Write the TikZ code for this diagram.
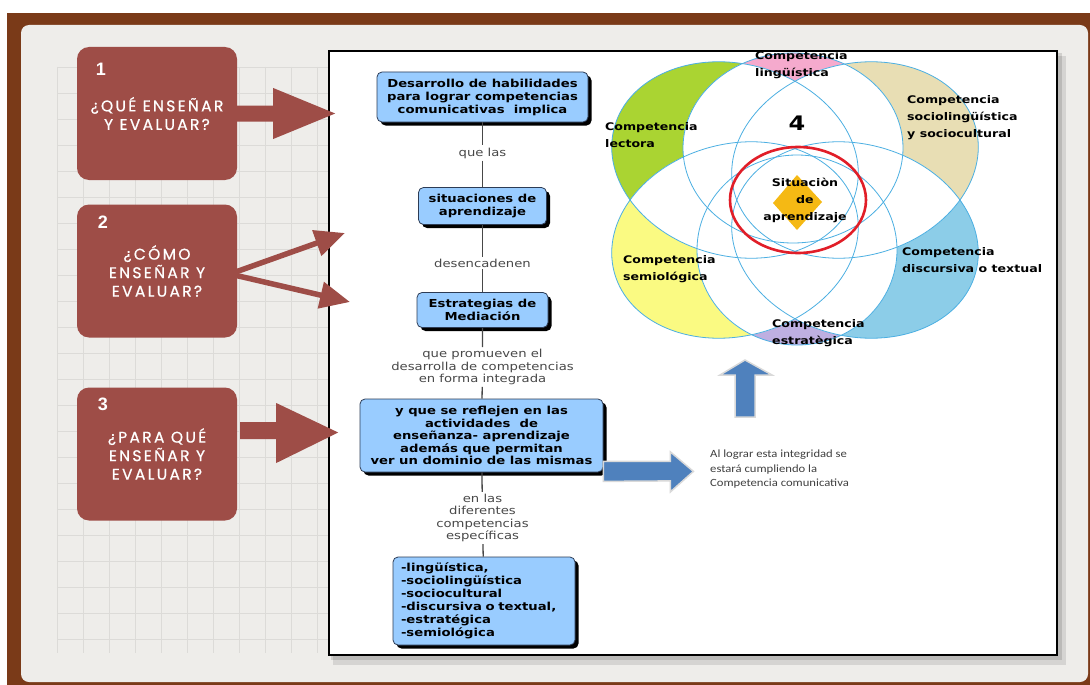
\documentclass[tikz,border=0pt]{standalone}
\usepackage{fontspec}
\usetikzlibrary{arrows.meta,shadows,calc}
\setmainfont{DejaVu Sans}
\newfontfamily\flowfont[FakeStretch=1.2]{DejaVu Sans}
\newfontfamily\capsfont[LetterSpace=15,FakeBold=0.8]{Poppins}
\newfontfamily\numfont{Liberation Sans}
\newfontfamily\notefont[FakeStretch=1.15]{Carlito}

\definecolor{frameBrown}{RGB}{122,58,24}
\definecolor{paper}{RGB}{238,237,234}
\definecolor{gridline}{RGB}{220,219,216}
\definecolor{rust}{RGB}{158,77,71}
\definecolor{boxblue}{RGB}{153,204,255}
\definecolor{boxedge}{RGB}{45,60,85}
\definecolor{linkgray}{RGB}{72,72,72}
\definecolor{arrowblue}{RGB}{79,129,189}
\definecolor{petalline}{RGB}{75,175,226}
\definecolor{ringred}{RGB}{225,30,40}
\definecolor{diamondgold}{RGB}{245,185,20}
\definecolor{pinkP}{RGB}{245,170,205}
\definecolor{tanP}{RGB}{232,222,180}
\definecolor{cyanP}{RGB}{140,205,232}
\definecolor{lavP}{RGB}{190,175,225}
\definecolor{yellowP}{RGB}{250,250,130}
\definecolor{limeP}{RGB}{170,212,50}

% petals of the competence flower: index/centre x/centre y/tilt/radius a/radius b/colour
\def\petallist{1/793/148/0/110/95/pinkP, 2/855/160/15/125/96/tanP,
  3/855/240/-15/125/96/cyanP, 4/797/250/0/100/95/lavP,
  5/735/240/15/125/96/yellowP, 6/735/160/-15/125/96/limeP}

\begin{document}
\begin{tikzpicture}[x=1pt,y=-1pt,
  qbox/.style={fill=rust, rounded corners=12pt, minimum width=160pt,
    minimum height=133pt, text=white, align=center, inner sep=0pt,
    font=\capsfont\fontsize{15.5}{18.5}\selectfont},
  qnum/.style={text=white, inner sep=0pt,
    font=\numfont\bfseries\fontsize{18}{18}\selectfont},
  flowbox/.style={fill=boxblue, draw=boxedge, line width=0.8pt,
    rounded corners=5pt, align=center, inner sep=0pt,
    font=\flowfont\bfseries\fontsize{11}{13}\selectfont,
    drop shadow={shadow xshift=3.5pt, shadow yshift=-3.5pt, opacity=1, fill=black}},
  linktext/.style={text=linkgray, align=center, inner sep=2pt,
    font=\flowfont\fontsize{11}{12.4}\selectfont},
  link/.style={draw=linkgray, line width=1.3pt},
  blockblue/.style={fill=arrowblue, draw=black!15, line width=1.5pt},
  petal/.style={draw=petalline, line width=0.8pt},
  complabel/.style={font=\flowfont\bfseries\fontsize{10.5}{17}\selectfont,
    align=left, inner sep=0pt},
]
\useasboundingbox (0,0) rectangle (1090,685);
\fill[white] (0,0) rectangle (1090,685);

% board frame and paper sheet
\fill[frameBrown] (7,13) rectangle (1090,685);
\fill[paper, rounded corners=8pt] (21,25) rectangle (1088,682);
\foreach \gx in {57,83,...,1045} \draw[gridline, line width=0.6pt] (\gx,67) -- (\gx,653);
\foreach \gy in {67,93,...,653} \draw[gridline, line width=0.6pt] (57,\gy) -- (1045,\gy);

% white sheet with the concept map
\fill[black, opacity=0.10] (333,56) rectangle (1066,665);
\fill[black, opacity=0.12] (331,53) rectangle (1062,660);
\draw[black, line width=2pt, fill=white] (329,51) rectangle (1057,655);

% question boxes
\node[qbox] (q1) at (157,113.5) {¿QUÉ ENSEÑAR\\Y EVALUAR?};
\node[qbox] (q2) at (157,271) {¿CÓMO\\ENSEÑAR Y\\EVALUAR?};
\node[qbox] (q3) at (157,454) {¿PARA QUÉ\\ENSEÑAR Y\\EVALUAR?};
\node[qnum] (n1) at ($(q1.north west)+(24,23)$) {1};
\node[qnum] (n2) at ($(q2.north west)+(26,18)$) {2};
\node[qnum] (n3) at ($(q3.north west)+(26,17)$) {3};

% block arrow from question 1
\fill[rust] ($(q1.east)+(0,-8)$) -- ++(36,0) -- ++(0,-17.5)
  -- ($(q1.east)+(98,0)$) -- ($(q1.east)+(36,25.5)$) -- ++(0,-17.5)
  -- ($(q1.east)+(0,8)$) -- cycle;
% forked arrows from question 2
\coordinate (fork) at (230,274);
\coordinate (tipA) at (345,233);
\coordinate (tipB) at (350,302);
\draw[rust, line width=5.5pt, -{Triangle[length=30pt,width=26pt]}] (fork) -- (tipA);
\draw[rust, line width=5.5pt, -{Triangle[length=30pt,width=26pt]}] (fork) -- (tipB);
% block arrow from question 3
\coordinate (a3) at ($(q3.east)+(3,-23)$);
\fill[rust] ($(a3)+(0,-9)$) -- ++(36,0) -- ++(0,-19)
  -- ($(a3)+(98,1.5)$) -- ($(a3)+(36,32)$) -- ++(0,-24)
  -- ($(a3)+(0,8)$) -- cycle;

% flow of concepts
\node[flowbox, minimum width=211pt, minimum height=50pt] (A) at (482.5,97)
  {Desarrollo de habilidades\\para lograr competencias\\comunicativas\ \ implica};
\node[linktext] (l1) at (482.5,153) {que las};
\node[flowbox, minimum width=128pt, minimum height=37pt] (B) at (482.5,206)
  {situaciones de\\aprendizaje};
\node[linktext] (l2) at (482.5,263) {desencadenen};
\node[flowbox, minimum width=131pt, minimum height=35pt] (C) at (482.5,310)
  {Estrategias de\\Mediación};
\node[linktext] (l3) at (482.5,367)
  {que promueven el\\desarrolla de competencias\\en forma integrada};
\node[flowbox, minimum width=243pt, minimum height=73pt,
  font=\flowfont\bfseries\fontsize{11}{12.5}\selectfont] (D) at (481.5,435.5)
  {y que se reflejen en las\\actividades\ \ de\\enseñanza- aprendizaje\\además que permitan\\ver un dominio de las mismas};
\node[linktext] (l4) at (482.5,518)
  {en las\\diferentes\\competencias\\específicas};
\node[flowbox, minimum width=182pt, minimum height=88pt, align=left,
  text width=166pt] (E) at (484,601)
  {-lingüística,\\-sociolingüística\\-sociocultural\\-discursiva o textual,\\-estratégica\\-semiológica};

\draw[link] (A) -- (l1) -- (B);
\draw[link] (B) -- (l2) -- (C);
\draw[link] (C) -- (l3) -- (D);
\draw[link] (D) -- (l4) -- (E);

% blue arrows towards the result
\coordinate (d0) at ($(D.south east)+(0,-1)$);
\filldraw[blockblue] ($(d0)+(0,-10)$) -- ++(67,0) -- ++(0,-9.5)
  -- ($(d0)+(90,0)$) -- ($(d0)+(67,20.5)$) -- ++(0,-11)
  -- ($(d0)+(0,10)$) -- cycle;
\coordinate (u0) at (745,417);
\filldraw[blockblue] ($(u0)+(-10,0)$) -- ++(0,-42) -- ++(-15,0)
  -- ($(u0)+(0,-57)$) -- ($(u0)+(27,-42)$) -- ++(-17,0)
  -- ($(u0)+(10,0)$) -- cycle;
\node[anchor=north west, align=left, inner sep=0pt, text=black!75,
  font=\notefont\fontsize{11}{14.5}\selectfont] (note) at (710,450)
  {Al lograr esta integridad se\\estará cumpliendo la\\Competencia comunicativa};

% flower of competences: each petal coloured, overlaps left white
\foreach \i/\px/\py/\pa/\pr/\ps/\pc in \petallist
  \fill[\pc, rotate around={\pa:(\px,\py)}] (\px,\py)
    ellipse [x radius=\pr pt, y radius=\ps pt];
\foreach \i/\px/\py/\pa/\pr/\ps/\pc in \petallist{
  \foreach \j/\qx/\qy/\qa/\qr/\qs/\qc in \petallist{
    \ifnum\i=\j\relax\else
      \begin{scope}
        \clip[rotate around={\pa:(\px,\py)}] (\px,\py)
          ellipse [x radius=\pr pt, y radius=\ps pt];
        \fill[white, rotate around={\qa:(\qx,\qy)}] (\qx,\qy)
          ellipse [x radius=\qr pt, y radius=\qs pt];
      \end{scope}
    \fi
  }
}
\foreach \i/\px/\py/\pa/\pr/\ps/\pc in \petallist
  \draw[petal, rotate around={\pa:(\px,\py)}] (\px,\py)
    ellipse [x radius=\pr pt, y radius=\ps pt];

\draw[ringred, line width=2.6pt] (798,200) ellipse [x radius=68pt, y radius=53pt];
\fill[diamondgold] (797,175) -- (822,202) -- (797,230) -- (773,203) -- cycle;
\node[complabel, align=center] (sit) at (805,200) {Situaciòn\\de\\aprendizaje};
\node[font=\flowfont\bfseries\fontsize{20}{20}\selectfont, inner sep=0pt] (four) at (797,123) {4};

\node[complabel, anchor=west] (cl1) at (755,65) {Competencia\\lingüística};
\node[complabel, anchor=west] (cl2) at (605,135.5) {Competencia\\lectora};
\node[complabel, anchor=west] (cl3) at (907,118) {Competencia\\sociolingüística\\y sociocultural};
\node[complabel, anchor=west] (cl4) at (902,260) {Competencia\\discursiva o textual};
\node[complabel, anchor=west] (cl5) at (623,269.5) {Competencia\\semiológica};
\node[complabel, anchor=west] (cl6) at (772,333) {Competencia\\estratègica};
\end{tikzpicture}
\end{document}
